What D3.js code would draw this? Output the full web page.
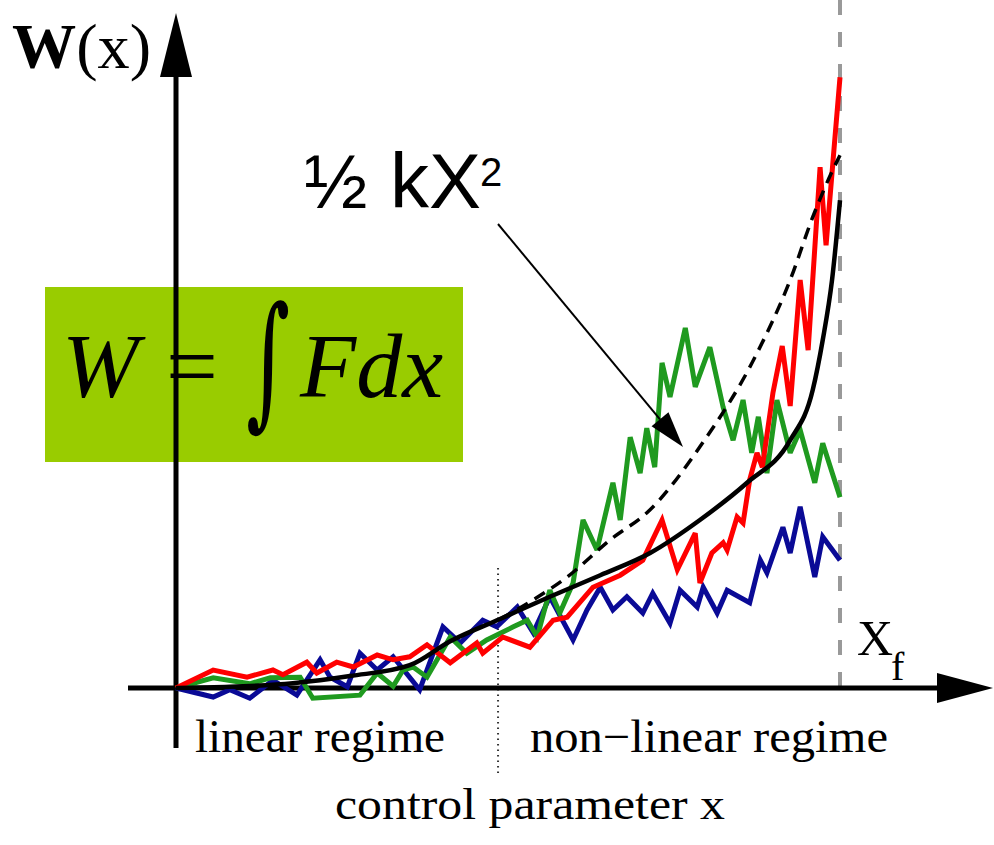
<!DOCTYPE html>
<html><head><meta charset="utf-8">
<script src="https://cdn.jsdelivr.net/npm/d3@7/dist/d3.min.js"></script>
<style>html,body{margin:0;padding:0;background:#fff;}svg{display:block;}</style>
</head><body>
<svg id="chart" width="994" height="845"></svg>
<script>
// ---- data (x: control parameter, 0..100 = 0..x_f ; y: work W(x), arbitrary units) ----
const redX   = [0,5.6,10.7,14.6,16.1,19.7,21.2,24.2,26.7,30.3,32.7,35.2,37.8,41.3,45.3,46.2,49.2,53.3,56.8,58.9,62.8,66.9,70.3,73.2,75.5,78.2,78.9,80.7,82.4,83.0,84.5,85.4,86.4,87.5,88.3,89.9,91.3,92.5,94.0,95.2,97.0,97.9,98.9,100];
const redY   = [0,3.0,1.8,3.0,2.2,4.3,2.5,4.3,3.5,5.5,4.7,5.2,7.2,4.2,7.5,5.8,8.5,6.8,11.3,11.8,16.8,18.8,21.3,28,19.7,25.8,17.5,22.5,24.2,23,28.5,27.5,34.7,39.2,36.8,49.2,57.0,47.0,68,56.3,86.8,73.8,87.2,101.8];
const greenX = [0,5.6,11.1,14.2,18.7,20.6,27.7,30.3,32.7,34.2,35.7,37.8,41.3,43.8,46.8,50.8,52.9,54.4,56.3,57.8,59.8,61.3,63.4,65.8,66.9,68.4,69.9,70.9,72.1,73.2,74.4,76.7,78.2,80.4,82.4,83.9,85.4,86.7,87.7,89.0,90.5,92.5,94.0,96.2,97.4,100];
const greenY = [0,1.7,0.7,1.7,1.8,-1.7,-1.2,2.5,0.3,3.0,3.5,1.8,8.5,5.8,8.0,10.2,11.3,8.5,16.3,12.5,17.5,28,23,34.2,28,41.8,35.8,43.3,36.8,54.2,48.5,60,50.2,56.8,46.8,41.3,48,39.2,45.2,35.8,48,39.2,43,34.2,40.8,31.8];
const blueX  = [0,5.6,8.1,11.1,14.6,18.2,21.7,23.2,25.8,27.7,30.3,32.7,36.7,40.2,42.8,46.2,48.3,51.4,53.8,56.3,59.8,61.9,63.9,65.8,67.9,70.3,71.8,74.4,75.9,78.5,79.4,81.5,83.0,86.4,88.0,89.0,91.4,92.5,94.0,96.2,97.4,100];
const blueY  = [0,-1.5,-0.3,-1.7,1.3,-1.2,4.7,1.8,0.2,5.8,3.0,5.2,-0.3,10.2,7.5,11.3,10.2,13.5,9.2,15.2,8.0,13.0,16.8,13.0,15.2,12.5,15.8,10.8,16.3,13.5,16.8,12.5,16.3,14.2,21.3,19.2,26.8,22.5,30.2,18.5,25.2,21.3];
const meanX  = [0,8.1,17.6,26.2,35.2,41.3,48.8,56.3,63.9,71.4,78.9,86.0,92.5,95.9,97.4,98.8,100];
const meanY  = [0,0.2,0.8,2.0,3.8,7.8,11.5,15.2,18.8,22.5,28,34.2,41.3,49.7,58,68,81.3];
const quadX  = [48.8,53.8,58.9,65.4,71.4,78.9,87.5,92.5,95.9,98.9,100];
const quadY  = [11.5,14.7,18.5,24.7,29.7,40.2,55.8,68,78.5,86.3,88.8];
const regimeBoundary = 48.5;   // linear / non-linear split
const xFinal = 100;            // x_f
const labels = {xf:"X", xfSub:"f", linear:"linear regime", nonlinear:"non\u2212linear regime", axis:"control parameter x", half:"\u00BD", kx:"kX", sup:"2"};

// ---- scales ----
const svg = d3.select("#chart");
const x = d3.scaleLinear().domain([0,100]).range([176,840]);
const y = d3.scaleLinear().domain([0,100]).range([688,88]);
const zip = (a,b)=>a.map((v,i)=>[v,b[i]]);
const serif="'Liberation Serif','Times New Roman',serif";
const sans="'Liberation Sans',Arial,sans-serif";

// green formula box
svg.append("rect").attr("x",45).attr("y",287).attr("width",418).attr("height",175).attr("fill","#99cc00");
const f = svg.append("text").attr("y",397).attr("font-family",serif).attr("font-size",92).attr("fill","#000");
f.append("tspan").attr("x",62).attr("font-style","italic").text("W");
f.append("tspan").attr("x",166).text("=");
svg.append("text").attr("x",246).attr("y",410).attr("font-size",145).attr("font-family","'DejaVu Serif',serif")
  .attr("textLength",44).attr("lengthAdjust","spacingAndGlyphs").text("\u222B");
svg.append("text").attr("x",300).attr("y",397).attr("font-family",serif).attr("font-size",92)
  .attr("font-style","italic").text("Fdx");

// final position dashed line
svg.append("line").attr("x1",x(xFinal)).attr("x2",x(xFinal)).attr("y1",0).attr("y2",y(0))
  .attr("stroke","#999").attr("stroke-width",4).attr("stroke-dasharray","15,17");
// regime dotted boundary
svg.append("line").attr("x1",x(regimeBoundary)).attr("x2",x(regimeBoundary)).attr("y1",y(20)).attr("y2",775)
  .attr("stroke","#333").attr("stroke-width",2).attr("stroke-dasharray","1.5,4");

// axes
const ax = svg.append("g").attr("stroke","#000");
ax.append("line").attr("x1",x(0)).attr("x2",x(0)).attr("y1",70).attr("y2",748).attr("stroke-width",5);
ax.append("path").attr("d",`M${x(0)},13 L${x(0)-16},77 L${x(0)+16},77 Z`).attr("fill","#000").attr("stroke","none");
ax.append("line").attr("x1",128).attr("x2",945).attr("y1",y(0)).attr("y2",y(0)).attr("stroke-width",5);
ax.append("path").attr("d",`M993,${y(0)} L937,${y(0)-15} L937,${y(0)+15} Z`).attr("fill","#000").attr("stroke","none");

// trajectories
const lin = d3.line().x(d=>x(d[0])).y(d=>y(d[1]));
const smooth = d3.line().x(d=>x(d[0])).y(d=>y(d[1])).curve(d3.curveMonotoneX);
[[blueX,blueY,"#0a0a96"],[greenX,greenY,"#1f9a1f"],[redX,redY,"#ff0000"]].forEach(([a,b,c])=>{
  svg.append("path").datum(zip(a,b)).attr("d",lin).attr("fill","none").attr("stroke",c)
    .attr("stroke-width",5).attr("stroke-linejoin","miter").attr("stroke-miterlimit",3);
});
svg.append("path").datum(zip(quadX,quadY)).attr("d",smooth).attr("fill","none").attr("stroke","#000")
  .attr("stroke-width",3.5).attr("stroke-dasharray","12,8");
svg.append("path").datum(zip(meanX,meanY)).attr("d",smooth).attr("fill","none").attr("stroke","#000")
  .attr("stroke-width",4.5);

// annotation arrow
const ax0=[498,224], tip=[683,447];
const dx=tip[0]-ax0[0], dy=tip[1]-ax0[1], L=Math.hypot(dx,dy), ux=dx/L, uy=dy/L;
const bx=tip[0]-36*ux, by=tip[1]-36*uy;
svg.append("line").attr("x1",ax0[0]).attr("y1",ax0[1]).attr("x2",bx).attr("y2",by).attr("stroke","#000").attr("stroke-width",2);
svg.append("path").attr("d",`M${tip[0]},${tip[1]} L${bx-11*uy},${by+11*ux} L${bx+11*uy},${by-11*ux} Z`).attr("fill","#000");

// texts
const wl = svg.append("text").attr("x",12).attr("y",68).attr("font-family",serif).attr("font-size",64).attr("fill","#000")
  .attr("textLength",139).attr("lengthAdjust","spacingAndGlyphs");
wl.append("tspan").attr("font-weight","bold").text("W");
wl.append("tspan").text("(x)");
svg.append("text").attr("x",304).attr("y",208).attr("font-family",sans).attr("font-size",76).text(labels.half);
svg.append("text").attr("x",390).attr("y",208).attr("font-family",sans).attr("font-size",78).text(labels.kx);
svg.append("text").attr("x",480).attr("y",186).attr("font-family",sans).attr("font-size",40).text(labels.sup);
svg.append("text").attr("x",857).attr("y",655).attr("font-family",serif).attr("font-size",50).text(labels.xf);
svg.append("text").attr("x",891).attr("y",680).attr("font-family",serif).attr("font-size",40).text(labels.xfSub);
svg.append("text").attr("x",195).attr("y",752).attr("font-family",serif).attr("font-size",46)
  .attr("textLength",250).attr("lengthAdjust","spacingAndGlyphs").text(labels.linear);
svg.append("text").attr("x",530).attr("y",752).attr("font-family",serif).attr("font-size",46)
  .attr("textLength",358).attr("lengthAdjust","spacingAndGlyphs").text(labels.nonlinear);
svg.append("text").attr("x",335).attr("y",819).attr("font-family",serif).attr("font-size",44)
  .attr("textLength",390).attr("lengthAdjust","spacingAndGlyphs").text(labels.axis);
</script>
</body></html>
